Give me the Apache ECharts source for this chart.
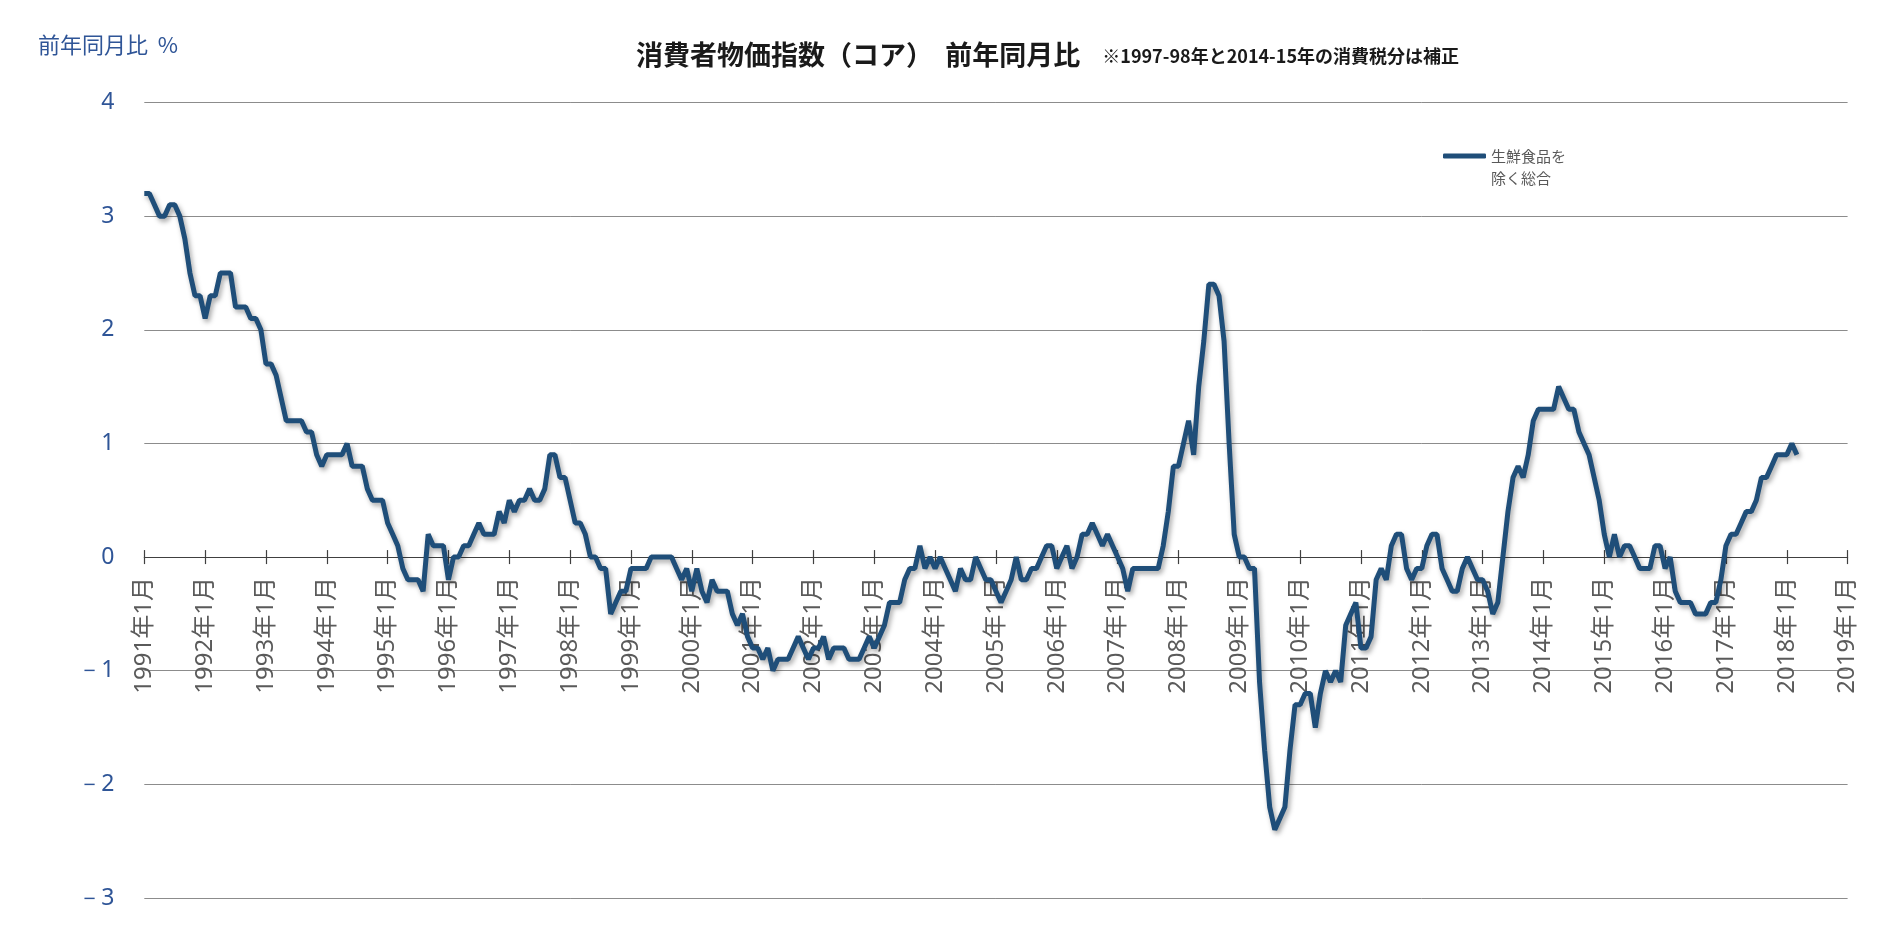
<!DOCTYPE html>
<html>
<head>
<meta charset="utf-8">
<script src="https://cdn.jsdelivr.net/npm/echarts@6/dist/echarts.min.js"></script>
<style>
html,body{margin:0;padding:0;background:#fff;}
#chart{width:1891px;height:946px;}
</style>
</head>
<body>
<div id="chart"></div>
<script>
// ---- data ----
const startYear = 1991;
const endYear = 2019;   // axis end (2019年1月)
const seriesName = '生鮮食品を除く総合';
const legendLines = ['生鮮食品を', '除く総合'];
const chartTitle = '消費者物価指数（コア）  前年同月比';
const chartNote = '※1997-98年と2014-15年の消費税分は補正';
const yAxisTitle = '前年同月比  %';
const yMin = -3, yMax = 4, yStep = 1;
// monthly y/y %, 1991年1月 .. 2018年3月
const coreCPI = [
  3.2, 3.2, 3.1, 3.0, 3.0, 3.1, 3.1, 3.0, 2.8, 2.5, 2.3, 2.3,        // 1991
  2.1, 2.3, 2.3, 2.5, 2.5, 2.5, 2.2, 2.2, 2.2, 2.1, 2.1, 2.0,        // 1992
  1.7, 1.7, 1.6, 1.4, 1.2, 1.2, 1.2, 1.2, 1.1, 1.1, 0.9, 0.8,        // 1993
  0.9, 0.9, 0.9, 0.9, 1.0, 0.8, 0.8, 0.8, 0.6, 0.5, 0.5, 0.5,        // 1994
  0.3, 0.2, 0.1, -0.1, -0.2, -0.2, -0.2, -0.3, 0.2, 0.1, 0.1, 0.1,   // 1995
  -0.2, 0.0, 0.0, 0.1, 0.1, 0.2, 0.3, 0.2, 0.2, 0.2, 0.4, 0.3,       // 1996
  0.5, 0.4, 0.5, 0.5, 0.6, 0.5, 0.5, 0.6, 0.9, 0.9, 0.7, 0.7,        // 1997
  0.5, 0.3, 0.3, 0.2, 0.0, 0.0, -0.1, -0.1, -0.5, -0.4, -0.3, -0.3,  // 1998
  -0.1, -0.1, -0.1, -0.1, 0.0, 0.0, 0.0, 0.0, 0.0, -0.1, -0.2, -0.1, // 1999
  -0.3, -0.1, -0.3, -0.4, -0.2, -0.3, -0.3, -0.3, -0.5, -0.6, -0.5, -0.7, // 2000
  -0.8, -0.8, -0.9, -0.8, -1.0, -0.9, -0.9, -0.9, -0.8, -0.7, -0.8, -0.9, // 2001
  -0.8, -0.8, -0.7, -0.9, -0.8, -0.8, -0.8, -0.9, -0.9, -0.9, -0.8, -0.7, // 2002
  -0.8, -0.7, -0.6, -0.4, -0.4, -0.4, -0.2, -0.1, -0.1, 0.1, -0.1, 0.0,   // 2003
  -0.1, 0.0, -0.1, -0.2, -0.3, -0.1, -0.2, -0.2, 0.0, -0.1, -0.2, -0.2,   // 2004
  -0.3, -0.4, -0.3, -0.2, 0.0, -0.2, -0.2, -0.1, -0.1, 0.0, 0.1, 0.1,     // 2005
  -0.1, 0.0, 0.1, -0.1, 0.0, 0.2, 0.2, 0.3, 0.2, 0.1, 0.2, 0.1,           // 2006
  0.0, -0.1, -0.3, -0.1, -0.1, -0.1, -0.1, -0.1, -0.1, 0.1, 0.4, 0.8,     // 2007
  0.8, 1.0, 1.2, 0.9, 1.5, 1.9, 2.4, 2.4, 2.3, 1.9, 1.0, 0.2,             // 2008
  0.0, 0.0, -0.1, -0.1, -1.1, -1.7, -2.2, -2.4, -2.3, -2.2, -1.7, -1.3,   // 2009
  -1.3, -1.2, -1.2, -1.5, -1.2, -1.0, -1.1, -1.0, -1.1, -0.6, -0.5, -0.4, // 2010
  -0.8, -0.8, -0.7, -0.2, -0.1, -0.2, 0.1, 0.2, 0.2, -0.1, -0.2, -0.1,    // 2011
  -0.1, 0.1, 0.2, 0.2, -0.1, -0.2, -0.3, -0.3, -0.1, 0.0, -0.1, -0.2,     // 2012
  -0.2, -0.3, -0.5, -0.4, 0.0, 0.4, 0.7, 0.8, 0.7, 0.9, 1.2, 1.3,         // 2013
  1.3, 1.3, 1.3, 1.5, 1.4, 1.3, 1.3, 1.1, 1.0, 0.9, 0.7, 0.5,             // 2014
  0.2, 0.0, 0.2, 0.0, 0.1, 0.1, 0.0, -0.1, -0.1, -0.1, 0.1, 0.1,          // 2015
  -0.1, 0.0, -0.3, -0.4, -0.4, -0.4, -0.5, -0.5, -0.5, -0.4, -0.4, -0.2,  // 2016
  0.1, 0.2, 0.2, 0.3, 0.4, 0.4, 0.5, 0.7, 0.7, 0.8, 0.9, 0.9,             // 2017
  0.9, 1.0, 0.9                                                           // 2018
];

// ---- categories (monthly, 1991年1月 .. 2019年1月) ----
const categories = [];
for (let y = startYear; y <= endYear; y++) {
  for (let m = 1; m <= 12; m++) {
    categories.push(y + '年' + m + '月');
    if (y === endYear) break;
  }
}

const jpFont = '"Noto Sans CJK JP", "Noto Sans", sans-serif';
const W = 1891, H = 946;
const plotLeft = 144.3, plotRight = 43.4, plotTop = 102.5, plotBottom = 48;
// pixel row of the zero value, derived from the value range (for the axis-only grids)
const plotH = H - plotTop - plotBottom;
const zeroY = plotTop + plotH * (yMax - 0) / (yMax - yMin);

const chart = echarts.init(document.getElementById('chart'), null, {renderer: 'canvas'});
const yearTick = (idx) => idx % 12 === 0;
const tickStyle = {color: '#404040', width: 1.2};

chart.setOption({
  animation: false,
  backgroundColor: '#ffffff',
  title: [
    {
      text: '{a|' + chartTitle + '}{b|' + chartNote + '}',
      left: 631,
      top: 36,
      textStyle: {
        rich: {
          a: {fontFamily: jpFont, fontSize: 27, fontWeight: 'bold', color: '#1a1a1a'},
          b: {fontFamily: jpFont, fontSize: 18, fontWeight: 'bold', color: '#1a1a1a', padding: [4, 0, 0, 22]}
        }
      }
    },
    {
      text: yAxisTitle,
      left: 33,
      top: 29,
      textStyle: {fontFamily: jpFont, fontSize: 22, fontWeight: 'normal', color: '#2f5597'}
    }
  ],
  legend: {
    left: 1438,
    top: 118,
    icon: 'roundRect',
    itemWidth: 43,
    itemHeight: 5,
    formatter: () => ' \n' + legendLines.join('\n'),
    textStyle: {fontFamily: jpFont, fontSize: 15, color: '#595959', lineHeight: 22},
    data: [seriesName]
  },
  grid: [
    {left: plotLeft, right: plotRight, top: plotTop, bottom: plotBottom, containLabel: false, outerBoundsMode: 'none'},
    {left: plotLeft, right: plotRight, top: plotTop, bottom: H - zeroY, containLabel: false, outerBoundsMode: 'none'},
    {left: plotLeft, right: plotRight, top: zeroY, bottom: plotBottom, containLabel: false, outerBoundsMode: 'none'}
  ],
  xAxis: [
    {
      gridIndex: 0, type: 'category', data: categories, boundaryGap: false,
      axisLine: {show: false}, axisTick: {show: false}, axisLabel: {show: false}, splitLine: {show: false}
    },
    {
      gridIndex: 1, type: 'category', data: categories, boundaryGap: false, position: 'bottom',
      axisLine: {show: true, onZero: false, lineStyle: tickStyle},
      axisTick: {interval: (i) => yearTick(i), length: 7, lineStyle: tickStyle},
      axisLabel: {
        interval: (i) => yearTick(i),
        rotate: 90,
        margin: 20,
        fontFamily: '"Noto Sans", "Noto Sans CJK JP", sans-serif',
        fontSize: 24,
        color: '#5a5a5a'
      },
      splitLine: {show: false}
    },
    {
      gridIndex: 2, type: 'category', data: categories, boundaryGap: false, position: 'top',
      axisLine: {show: false, onZero: false},
      axisTick: {interval: (i) => yearTick(i), length: 7, lineStyle: tickStyle},
      axisLabel: {show: false},
      splitLine: {show: false}
    }
  ],
  yAxis: [
    {
      gridIndex: 0,
      type: 'value',
      min: yMin,
      max: yMax,
      interval: yStep,
      axisLine: {show: false},
      axisTick: {show: false},
      axisLabel: {
        margin: 30,
        fontFamily: '"Noto Sans", sans-serif',
        fontSize: 23,
        color: '#2f5597',
        formatter: (v) => v < 0 ? '－' + Math.abs(v) : String(v)
      },
      splitLine: {lineStyle: {color: '#8c8c8c', width: 1}}
    },
    {gridIndex: 1, type: 'value', min: 0, max: yMax, show: false},
    {gridIndex: 2, type: 'value', min: yMin, max: 0, show: false}
  ],
  series: [
    {
      name: seriesName,
      type: 'line',
      xAxisIndex: 0,
      yAxisIndex: 0,
      data: coreCPI,
      showSymbol: false,
      symbol: 'none',
      itemStyle: {color: '#1f4e79'},
      lineStyle: {
        color: '#1f4e79',
        width: 5,
        shadowColor: 'rgba(0,0,0,0.35)',
        shadowBlur: 5,
        shadowOffsetX: 2,
        shadowOffsetY: 3
      },
      z: 5
    }
  ]
});
</script>
</body>
</html>
